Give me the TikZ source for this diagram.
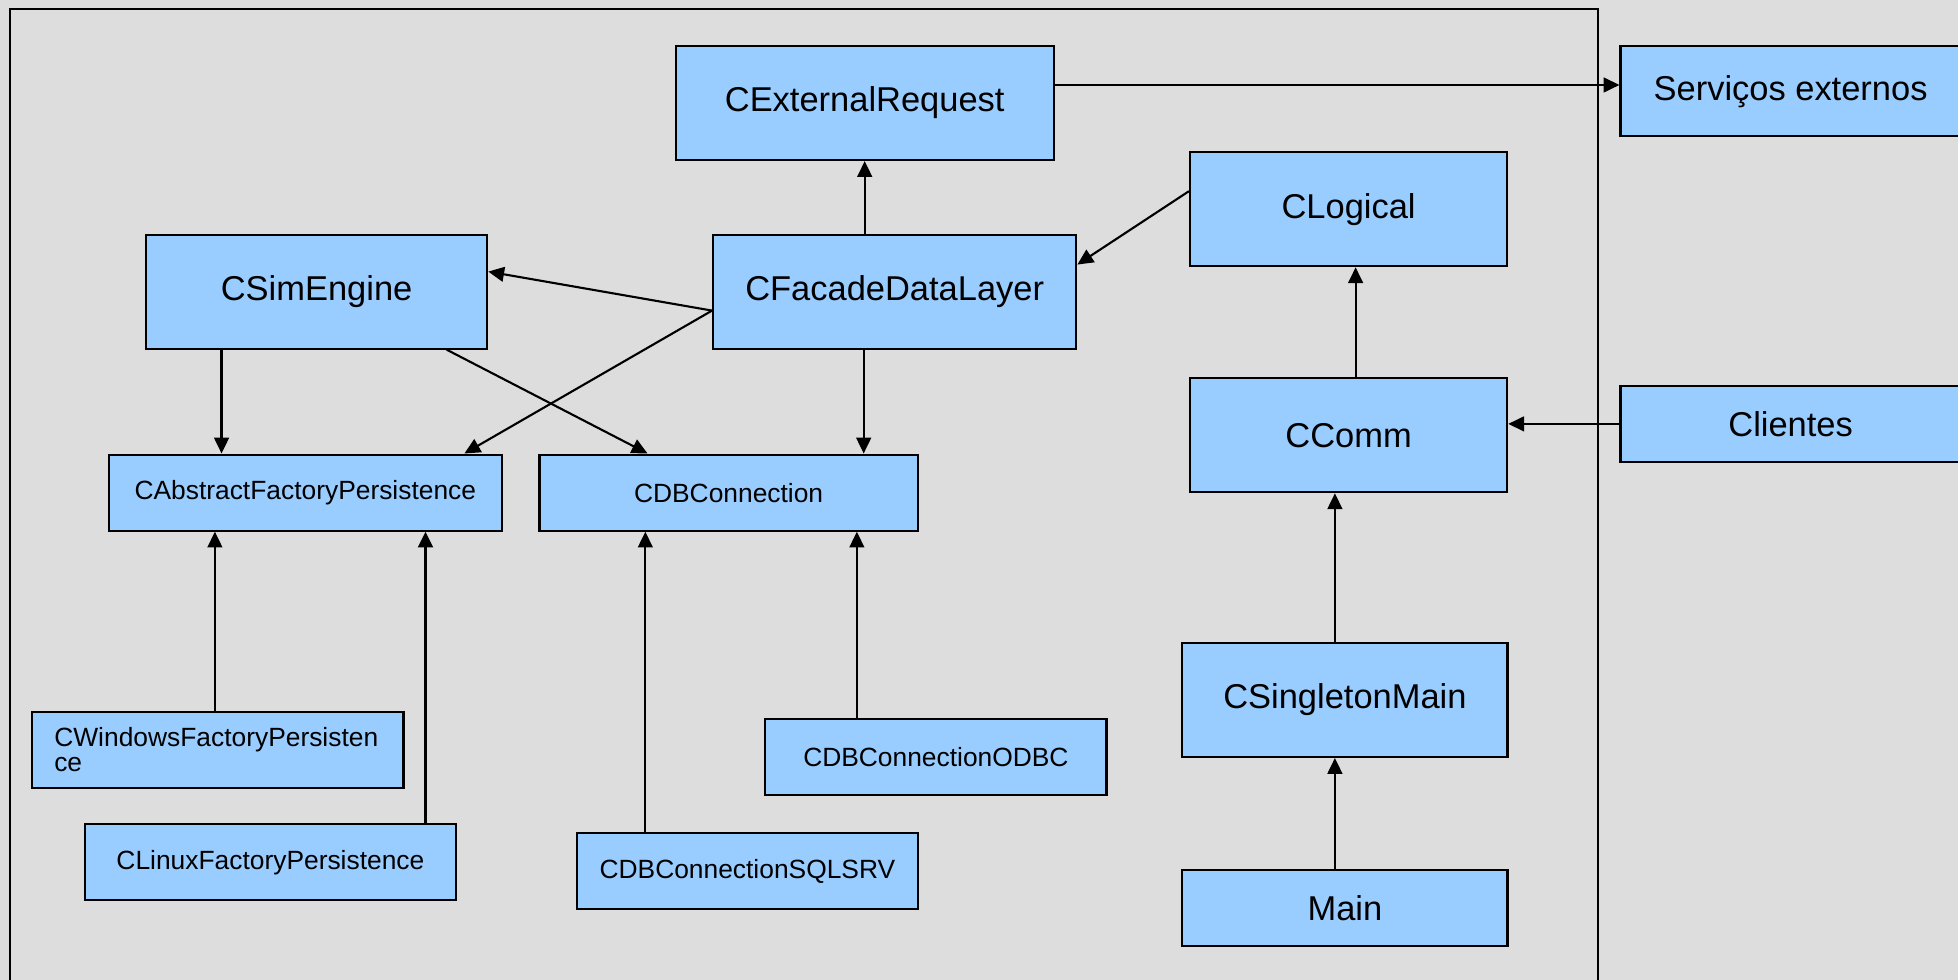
\documentclass[tikz,border=0pt]{standalone}
\usepackage{fontspec}
\setmainfont{Liberation Sans}
\usetikzlibrary{arrows.meta}
\definecolor{boxblue}{HTML}{99CCFF}
\definecolor{bggray}{HTML}{DDDDDD}

\begin{document}
\begin{tikzpicture}[x=0.01cm,y=-0.01cm,
		cls/.style={draw,fill=boxblue,line width=0.6pt,inner sep=0pt,font=\fontsize{9.8}{11}\selectfont},
		smallcls/.style={cls,font=\fontsize{7.5}{7.2}\selectfont},
		arr/.style={-{Triangle[length=4.5pt,width=4.2pt]},line width=0.6pt}]
			\fill[bggray] (0,0) rectangle (1958,980);
			\useasboundingbox (0,0) rectangle (1958,980);
			\draw[line width=0.6pt] (10,1000) -- (10,8.7) -- (1598,8.7) -- (1598,1000);
			% classes
			\node[cls,minimum width=3.78cm,minimum height=1.14cm] (ext) at (864.7,103) {CExternalRequest};
			\node[cls,minimum width=3.40cm,minimum height=0.90cm] (serv) at (1790.6,91.2) {Serviços externos};
			\node[cls,minimum width=3.17cm,minimum height=1.14cm] (logic) at (1348.6,209.2) {CLogical};
			\node[cls,minimum width=3.41cm,minimum height=1.14cm] (sim) at (316.6,291.6) {CSimEngine};
			\node[cls,minimum width=3.63cm,minimum height=1.14cm] (facade) at (894.7,291.6) {CFacadeDataLayer};
			\node[smallcls,minimum width=3.93cm,minimum height=0.76cm] (absfac) at (305.3,492.6) {CAbstractFactoryPersistence};
			\node[smallcls,minimum width=3.78cm,minimum height=0.76cm] (dbconn) at (728.6,492.6) {CDBConnection};
			\node[cls,minimum width=3.17cm,minimum height=1.14cm] (comm) at (1348.6,435.2) {CComm};
			\node[cls,minimum width=3.40cm,minimum height=0.76cm] (cli) at (1790.6,423.9) {Clientes};
			\node[smallcls,minimum height=0.76cm,text width=3.27cm,inner xsep=0.22cm,align=left] (winfac) at (217.9,749.9) {CWindowsFactoryPersisten\\ce};
			\node[smallcls,minimum width=3.71cm,minimum height=0.76cm] (linfac) at (270.4,862.2) {CLinuxFactoryPersistence};
			\node[smallcls,minimum width=3.41cm,minimum height=0.76cm] (odbc) at (935.9,757.4) {CDBConnectionODBC};
			\node[smallcls,minimum width=3.41cm,minimum height=0.76cm] (sqlsrv) at (747.4,871.0) {CDBConnectionSQLSRV};
			\node[cls,minimum width=3.25cm,minimum height=1.14cm] (single) at (1344.9,699.9) {CSingletonMain};
			\node[cls,minimum width=3.25cm,minimum height=0.76cm] (mainn) at (1344.9,908.4) {Main};
			% connectors
			\draw[arr] ([yshift=0.18cm]ext.east) coordinate (e1) -- (e1 -| serv.west);
			\draw[arr] (ext.south |- facade.north) -- (ext.south);
			\draw[arr] ([yshift=0.18cm]logic.west) -- ([yshift=0.27cm]facade.east);
			\draw[arr] ([yshift=-0.19cm]facade.west) -- ([yshift=0.2cm]sim.east);
			\draw[arr] ([yshift=-0.19cm]facade.west) -- ([xshift=1.59cm]absfac.north);
			\draw[arr] ([xshift=1.30cm]sim.south) -- ([xshift=-0.81cm]dbconn.north);
			\draw[arr] ([xshift=-0.95cm]sim.south) coordinate (s1) -- (s1 |- absfac.north);
			\draw[arr] ([xshift=-0.31cm]facade.south) coordinate (f2) -- (f2 |- dbconn.north);
			\draw[arr] ([xshift=-0.03cm]winfac.north) coordinate (w1) -- (w1 |- absfac.south);
			\draw[arr,line width=0.9pt] ([xshift=1.55cm]linfac.north) coordinate (l1) -- (l1 |- absfac.south);
			\draw[arr] ([xshift=-1.02cm]sqlsrv.north) coordinate (q1) -- (q1 |- dbconn.south);
			\draw[arr] ([xshift=-0.79cm]odbc.north) coordinate (o1) -- (o1 |- dbconn.south);
			\draw[arr] ([xshift=0.07cm]comm.north) coordinate (c1) -- (c1 |- logic.south);
			\draw[arr] (cli.west) -- (cli.west -| comm.east);
			\draw[arr] ([xshift=-0.10cm]single.north) coordinate (g1) -- (g1 |- comm.south);
			\draw[arr] (mainn.north -| g1) -- (g1 |- single.south);
		\end{tikzpicture}
\end{document}
